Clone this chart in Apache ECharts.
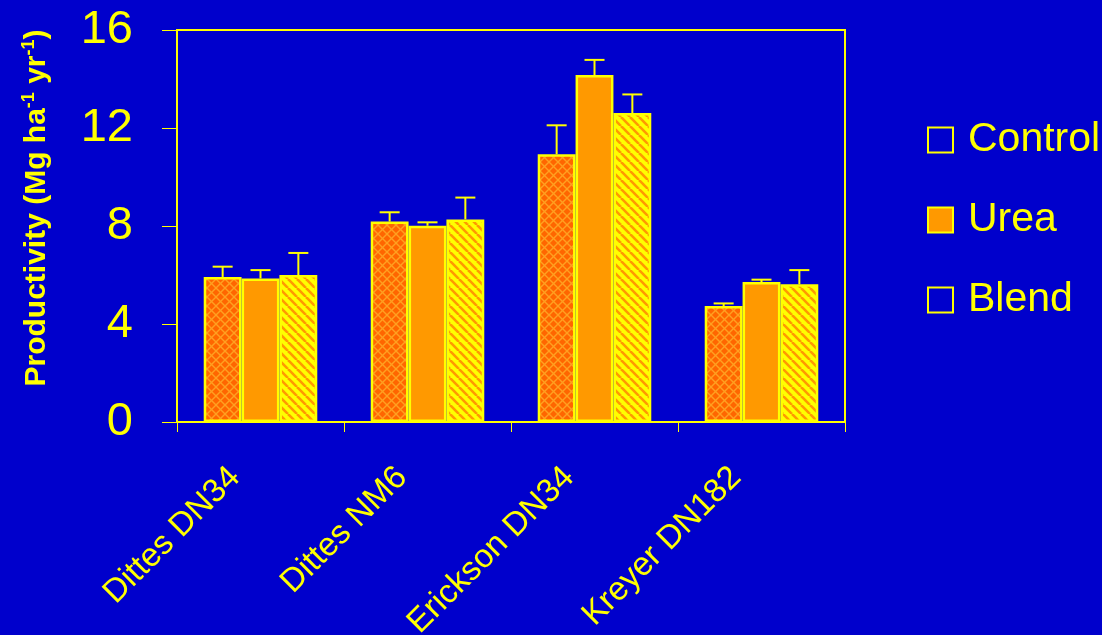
<!DOCTYPE html>
<html>
<head>
<meta charset="utf-8">
<script src="https://cdn.jsdelivr.net/npm/echarts@6/dist/echarts.min.js"></script>
<style>
  html, body { margin: 0; padding: 0; background: #0000CC; }
  #chart { width: 1102px; height: 635px; }
</style>
</head>
<body>
<div id="chart"></div>
<script>
// Productivity by site and nitrogen source (Mg ha-1 yr-1), bars with upper error bars
const categories = ['Dittes DN34', 'Dittes NM6', 'Erickson DN34', 'Kreyer DN182'];
const seriesNames = ['Control', 'Urea', 'Blend'];
const controlValues = [5.92, 8.18, 10.93, 4.73];
const controlErrors = [0.42, 0.38, 1.18, 0.11];
const ureaValues = [5.86, 8.01, 14.16, 5.71];
const ureaErrors = [0.34, 0.14, 0.62, 0.10];
const blendValues = [6.00, 8.27, 12.61, 5.62];
const blendErrors = [0.90, 0.89, 0.76, 0.58];
const yMin = 0, yMax = 16, yStep = 4;

const YELLOW = '#FFFF00';
const ORANGE = '#FF9900';
const DARK_ORANGE = '#FF6600';
const BLUE = '#0000CC';
const FONT = '"Liberation Sans", Arial, sans-serif';
const CATEGORY_GAP = 0.32;

// Tiled fill patterns
function crossHatch() {
  const s = 9, c = document.createElement('canvas');
  c.width = s; c.height = s;
  const g = c.getContext('2d');
  g.fillStyle = DARK_ORANGE; g.fillRect(0, 0, s, s);
  g.strokeStyle = '#FFA020'; g.lineWidth = 1.4;
  for (let k = -1; k <= 1; k++) {
    g.beginPath(); g.moveTo(k * s, 0); g.lineTo(k * s + s, s); g.stroke();
    g.beginPath(); g.moveTo(k * s, s); g.lineTo(k * s + s, 0); g.stroke();
  }
  return c;
}
function diagonalStripes() {
  const s = 9, c = document.createElement('canvas');
  c.width = s; c.height = s;
  const g = c.getContext('2d');
  g.fillStyle = YELLOW; g.fillRect(0, 0, s, s);
  g.strokeStyle = ORANGE; g.lineWidth = 2.6;
  for (let k = -1; k <= 1; k++) {
    g.beginPath(); g.moveTo(k * s, 0); g.lineTo(k * s + s, s); g.stroke();
  }
  return c;
}

const fills = [
  { image: crossHatch(), repeat: 'repeat' },
  ORANGE,
  { image: diagonalStripes(), repeat: 'repeat' }
];
const valueSets = [controlValues, ureaValues, blendValues];
const errorSets = [controlErrors, ureaErrors, blendErrors];

const barSeries = seriesNames.map((name, k) => ({
  name: name,
  type: 'bar',
  data: valueSets[k],
  barGap: '0%',
  barCategoryGap: (CATEGORY_GAP * 100) + '%',
  itemStyle: { color: fills[k], borderColor: YELLOW, borderWidth: 2.5 },
  z: 2
}));

// Upper error bars, placed over the matching bar of each group
const errorSeries = seriesNames.map((name, k) => ({
  name: name + ' error',
  type: 'custom',
  z: 3,
  silent: true,
  encode: { x: 0, y: 1 },
  data: valueSets[k].map((v, i) => [i, v, errorSets[k][i]]),
  renderItem: function (params, api) {
    const idx = api.value(0), v = api.value(1), e = api.value(2);
    const base = api.coord([idx, v]);
    const top = api.coord([idx, v + e]);
    const band = api.size([1, 0])[0];
    const barW = band * (1 - CATEGORY_GAP) / seriesNames.length;
    const x = base[0] + (k - (seriesNames.length - 1) / 2) * barW;
    const cap = 10;
    const style = { stroke: YELLOW, lineWidth: 2 };
    return {
      type: 'group',
      children: [
        { type: 'line', shape: { x1: x, y1: base[1], x2: x, y2: top[1] }, style: style },
        { type: 'line', shape: { x1: x - cap, y1: top[1], x2: x + cap, y2: top[1] }, style: style }
      ]
    };
  }
}));

const chart = echarts.init(document.getElementById('chart'));
chart.setOption({
  backgroundColor: BLUE,
  animation: false,
  grid: {
    left: 177, right: 257, top: 30, bottom: 213,
    outerBoundsMode: 'none',
    containLabel: false,
    show: true, borderColor: YELLOW, borderWidth: 2, backgroundColor: 'transparent'
  },
  legend: {
    orient: 'vertical',
    left: 927, top: 118,
    padding: 0,
    itemGap: 36,
    itemWidth: 25, itemHeight: 25,
    icon: 'rect',
    selectedMode: false,
    textStyle: { color: YELLOW, fontSize: 41, fontFamily: FONT, lineHeight: 44, padding: [0, 0, 0, 10] },
    data: [
      { name: 'Control', itemStyle: { color: BLUE, borderColor: YELLOW, borderWidth: 2 } },
      { name: 'Urea', itemStyle: { color: ORANGE, borderColor: YELLOW, borderWidth: 2 } },
      { name: 'Blend', itemStyle: { color: BLUE, borderColor: YELLOW, borderWidth: 2 } }
    ]
  },
  xAxis: {
    type: 'category',
    data: categories,
    axisLine: { lineStyle: { color: YELLOW, width: 2 } },
    axisTick: { show: true, length: 10, lineStyle: { color: YELLOW, width: 1 } },
    axisLabel: {
      rotate: 45, color: YELLOW, fontSize: 33, fontFamily: FONT,
      margin: 25, padding: [0, 36, 0, 0], interval: 0
    },
    splitLine: { show: false }
  },
  yAxis: {
    type: 'value',
    min: yMin, max: yMax, interval: yStep,
    axisLine: { show: true, lineStyle: { color: YELLOW, width: 2 } },
    axisTick: { show: true, length: 15, lineStyle: { color: YELLOW, width: 1 } },
    axisLabel: { color: YELLOW, fontSize: 47, fontFamily: FONT, margin: 44 },
    splitLine: { show: false }
  },
  graphic: [{
    type: 'text',
    x: 37, y: 208,
    rotation: Math.PI / 2,
    style: {
      text: '{a|Productivity (Mg ha}{s|-1}{a| yr}{s|-1}{a|)}',
      align: 'center', verticalAlign: 'middle',
      fill: YELLOW,
      rich: {
        a: { fontSize: 30, fontWeight: 'bold', fontFamily: FONT, fill: YELLOW, lineHeight: 34 },
        s: { fontSize: 18, fontWeight: 'bold', fontFamily: FONT, fill: YELLOW, verticalAlign: 'top', lineHeight: 34 }
      }
    }
  }],
  series: barSeries.concat(errorSeries)
});
</script>
</body>
</html>
